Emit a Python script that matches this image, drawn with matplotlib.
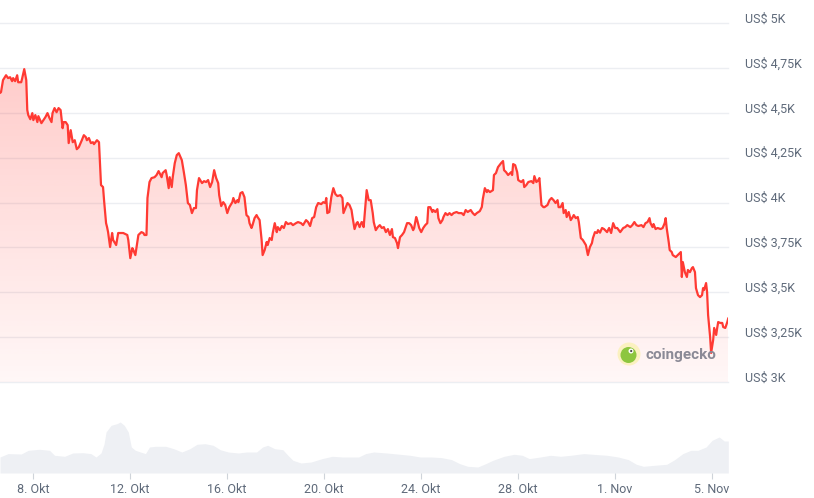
import matplotlib
matplotlib.use("Agg")
import matplotlib.pyplot as plt
import numpy as np
from datetime import datetime
from matplotlib.patches import Polygon, Circle

plt.rcParams['font.family'] = ['Roboto', 'DejaVu Sans']

# ---------------- data ----------------
start_time = datetime(2025, 10, 6, 15, 20)   # first sample
end_hours = 720.7                              # visible span in hours

price_hours = [
    0, 1, 3, 6, 8, 10, 12, 13, 15, 17,
    18, 21, 22, 24, 26, 27, 28, 30, 32, 33,
    35, 37, 38, 41, 43, 45, 47, 49, 51, 52,
    54, 56, 58, 60, 62, 63, 65, 67, 68, 70,
    72, 74, 76, 78, 81, 83, 85, 86, 88, 90,
    92, 93, 96, 98, 99, 100, 102, 103, 105, 106,
    107, 109, 111, 112, 115, 117, 120, 122, 126, 127,
    129, 131, 132, 134, 136, 137, 140, 142, 143, 145,
    146, 148, 150, 153, 155, 157, 160, 161, 164, 165,
    167, 168, 170, 171, 173, 175, 177, 180, 182, 184,
    186, 188, 190, 192, 194, 195, 197, 200, 202, 204,
    206, 208, 210, 212, 214, 216, 217, 219, 221, 223,
    225, 227, 230, 231, 233, 235, 236, 238, 240, 242,
    244, 246, 247, 249, 250, 252, 254, 255, 257, 259,
    260, 262, 264, 265, 267, 269, 270, 272, 274, 275,
    277, 279, 281, 283, 285, 288, 290, 293, 295, 298,
    300, 303, 305, 307, 309, 311, 313, 315, 318, 320,
    322, 323, 324, 326, 328, 330, 332, 334, 337, 339,
    340, 342, 344, 346, 348, 349, 351, 353, 354, 356,
    358, 359, 360, 362, 363, 365, 367, 369, 370, 372,
    374, 376, 378, 380, 382, 384, 386, 388, 389, 391,
    393, 394, 396, 398, 400, 403, 405, 407, 409, 410,
    412, 413, 415, 417, 419, 421, 423, 424, 426, 428,
    429, 431, 433, 434, 436, 438, 439, 441, 443, 445,
    447, 449, 452, 454, 457, 459, 461, 463, 466, 468,
    470, 472, 475, 477, 478, 480, 482, 483, 485, 488,
    489, 491, 493, 496, 498, 499, 501, 503, 506, 507,
    508, 510, 512, 513, 516, 518, 519, 521, 523, 526,
    528, 529, 531, 533, 534, 536, 538, 539, 542, 544,
    546, 548, 550, 552, 553, 555, 557, 558, 560, 561,
    563, 565, 567, 568, 570, 572, 573, 575, 577, 580,
    582, 584, 586, 587, 589, 591, 592, 594, 596, 598,
    601, 603, 605, 607, 609, 611, 614, 617, 619, 621,
    624, 626, 628, 630, 632, 635, 637, 639, 641, 643,
    644, 646, 647, 649, 651, 654, 656, 658, 659, 660,
    662, 663, 665, 666, 669, 671, 673, 674, 675, 676,
    678, 680, 681, 683, 685, 686, 688, 689, 691, 693,
    695, 696, 697, 699, 700, 701, 703, 704, 706, 707,
    709, 710, 711, 713, 715, 716, 718, 720, 721,
]

price_usd = [
    4610, 4615, 4682, 4709, 4693, 4698, 4676, 4693, 4676, 4709,
    4670, 4670, 4693, 4743, 4682, 4515, 4487, 4464, 4498, 4459,
    4487, 4448, 4481, 4442, 4459, 4476, 4498, 4470, 4448, 4498,
    4526, 4503, 4526, 4515, 4414, 4448, 4448, 4431, 4331, 4403,
    4336, 4347, 4297, 4308, 4347, 4375, 4364, 4347, 4359, 4331,
    4336, 4325, 4347, 4336, 4219, 4097, 4086, 4013, 3885, 3863,
    3835, 3752, 3830, 3791, 3763, 3830, 3830, 3830, 3819, 3791,
    3690, 3746, 3735, 3707, 3780, 3819, 3835, 3830, 3819, 3819,
    4025, 4114, 4136, 4141, 4153, 4175, 4141, 4164, 4180, 4153,
    4080, 4141, 4086, 4141, 4219, 4264, 4275, 4236, 4169, 4097,
    3997, 3986, 3941, 3969, 3969, 4069, 4136, 4108, 4119, 4114,
    4125, 4086, 4114, 4180, 4136, 4108, 4041, 3980, 4002, 3986,
    3941, 3974, 4002, 4025, 3997, 4013, 4002, 4052, 4058, 4030,
    3930, 3919, 3885, 3858, 3874, 3913, 3930, 3919, 3902, 3791,
    3707, 3735, 3780, 3763, 3802, 3791, 3830, 3885, 3835, 3863,
    3846, 3869, 3858, 3891, 3880, 3885, 3874, 3885, 3891, 3885,
    3874, 3902, 3891, 3869, 3913, 3919, 3974, 3997, 3991, 4002,
    3997, 4025, 3941, 3947, 4030, 4080, 4047, 4036, 4041, 4025,
    3941, 3969, 3997, 3986, 3958, 3919, 3852, 3885, 3891, 3863,
    3891, 3888, 3863, 3997, 4069, 4013, 4013, 3941, 3891, 3846,
    3863, 3874, 3858, 3863, 3835, 3852, 3819, 3852, 3807, 3802,
    3774, 3746, 3807, 3819, 3835, 3885, 3885, 3874, 3846, 3858,
    3919, 3902, 3858, 3835, 3858, 3874, 3885, 3974, 3974, 3947,
    3958, 3947, 3963, 3913, 3885, 3902, 3919, 3941, 3930, 3941,
    3930, 3941, 3947, 3941, 3941, 3930, 3958, 3947, 3958, 3941,
    3930, 3941, 3952, 3975, 4020, 4080, 4058, 4069, 4058, 4069,
    4153, 4164, 4197, 4219, 4231, 4180, 4169, 4153, 4169, 4153,
    4214, 4208, 4169, 4125, 4114, 4125, 4086, 4097, 4114, 4119,
    4108, 4147, 4114, 4125, 4136, 3986, 3974, 3974, 3986, 4013,
    4025, 4013, 3997, 4013, 3974, 3974, 3997, 3941, 3958, 3919,
    3947, 3902, 3919, 3930, 3913, 3919, 3891, 3802, 3791, 3763,
    3707, 3752, 3774, 3802, 3835, 3830, 3846, 3832, 3858, 3852,
    3835, 3858, 3830, 3885, 3858, 3858, 3835, 3858, 3863, 3874,
    3863, 3874, 3891, 3874, 3869, 3874, 3863, 3885, 3891, 3913,
    3885, 3863, 3880, 3852, 3858, 3852, 3858, 3885, 3913, 3858,
    3780, 3735, 3724, 3707, 3696, 3707, 3718, 3724, 3585, 3668,
    3612, 3585, 3624, 3612, 3635, 3640, 3612, 3523, 3484, 3473,
    3484, 3523, 3512, 3551, 3501, 3373, 3251, 3162, 3234, 3301,
    3262, 3301, 3334, 3329, 3329, 3306, 3301, 3334, 3356,
]

volume_hours = [
    0, 8, 21, 28, 39, 49, 54, 64, 72, 82, 90, 95, 100, 103, 105, 110, 116,
    119, 123, 127, 130, 134, 139, 144, 148, 154, 164, 172, 180, 188, 195,
    203, 211, 218, 226, 236, 244, 254, 260, 265, 272, 280, 285, 290, 298,
    308, 319, 329, 339, 355, 362, 370, 383, 396, 406, 416, 427, 437, 447,
    455, 463, 473, 481, 488, 499, 509, 517, 524, 535, 545, 555, 565, 578,
    591, 601, 612, 622, 630, 637, 648, 660, 668, 676, 684, 691, 699, 705,
    712, 717, 721,
]
volume_bn = [
    16, 19.4, 19, 22.7, 23.7, 22.7, 17.7, 16.7, 20, 20.3, 19.4, 16, 20, 29,
    41, 47.7, 49.4, 51, 47.7, 41, 26, 22.7, 21, 19.4, 26, 26.7, 26.7, 24.3,
    21, 24.3, 28.7, 29.3, 27.7, 23.3, 21, 20, 21, 21, 26, 27.7, 24.3, 23.3,
    17.7, 12.7, 10, 11, 14.4, 16.7, 16, 16, 19.4, 21, 20, 18.7, 17.7, 16,
    16, 15.4, 13.4, 9.4, 6.7, 6, 9.4, 12.7, 16.7, 18.7, 17.7, 14.4, 16,
    17.7, 16.7, 17.7, 19.4, 18.4, 17.7, 16, 13.4, 8.7, 6.7, 7.7, 8.7, 13.4,
    19.4, 22.7, 22.7, 26, 32.7, 36, 32, 32,
]

y_ticks = [3000, 3250, 3500, 3750, 4000, 4250, 4500, 4750, 5000]
y_tick_labels = ["US$ 3K", "US$ 3,25K", "US$ 3,5K", "US$ 3,75K", "US$ 4K",
                 "US$ 4,25K", "US$ 4,5K", "US$ 4,75K", "US$ 5K"]

x_tick_dates = [datetime(2025, 10, 8), datetime(2025, 10, 12), datetime(2025, 10, 16),
                datetime(2025, 10, 20), datetime(2025, 10, 24), datetime(2025, 10, 28),
                datetime(2025, 11, 1), datetime(2025, 11, 5)]
x_tick_labels = ["8. Okt", "12. Okt", "16. Okt", "20. Okt", "24. Okt", "28. Okt",
                 "1. Nov", "5. Nov"]

# ---------------- figure ----------------
W, H = 814, 498
fig = plt.figure(figsize=(W / 100, H / 100), dpi=100)
fig.patch.set_facecolor('white')

line_color = '#ff3a33'
grid_color = '#eceef2'
label_color = '#5f6a7a'

ax = fig.add_axes([0, 1 - 382 / H, 728 / W, (382 - 23) / H])
axv = fig.add_axes([0, 1 - 473 / H, 728 / W, 60 / H])

hours = np.array(price_hours, dtype=float)
usd = np.array(price_usd, dtype=float)

# gradient area under the price line
ymin, ymax = 3000, 5000
verts = [(hours[0], ymin)] + list(zip(hours, usd)) + [(hours[-1], ymin)]
poly = Polygon(verts, closed=True, facecolor='none', edgecolor='none')
ax.add_patch(poly)
n = 256
alpha = 0.04 + np.linspace(0, 1, n) * 0.25
grad = np.zeros((n, 1, 4))
grad[:, 0, 0] = 1.0
grad[:, 0, 1] = 0.23
grad[:, 0, 2] = 0.2
grad[:, 0, 3] = alpha
im = ax.imshow(grad, extent=[0, end_hours, ymin, ymax], origin='lower',
               aspect='auto', zorder=1, interpolation='bicubic')
im.set_clip_path(poly)

ax.plot(hours, usd, color=line_color, lw=1.6, zorder=4,
        solid_joinstyle='round', solid_capstyle='round')

# grid lines
for v in y_ticks:
    ax.axhline(v, color=grid_color, lw=1, zorder=0.5, clip_on=False)

ax.set_xlim(0, end_hours)
ax.set_ylim(ymin, ymax)
ax.set_xticks([])
ax.set_yticks([])
for s in ax.spines.values():
    s.set_visible(False)
ax.patch.set_alpha(0)

for v, lab in zip(y_ticks, y_tick_labels):
    ax.annotate(lab, xy=(1, v), xycoords=('axes fraction', 'data'),
                xytext=(12.3, 2.9), textcoords='offset points',
                ha='left', va='center', fontsize=9, color=label_color,
                annotation_clip=False)

# volume
axv.fill_between(volume_hours, volume_bn, 0, color='#eef0f4', lw=0)
axv.set_xlim(0, end_hours)
axv.set_ylim(0, 60)
axv.set_yticks([])
for s in axv.spines.values():
    s.set_visible(False)
axv.patch.set_alpha(0)
tick_pos = [(d - start_time).total_seconds() / 3600 for d in x_tick_dates]
axv.set_xticks(tick_pos)
axv.set_xticklabels(x_tick_labels)
axv.tick_params(axis='x', length=4, width=0.8, color='#cfd4da', pad=3,
                labelsize=9, labelcolor=label_color)

# coingecko watermark
cx, cy = 629 / 100, (H - 354) / 100
fig.patches.append(Circle((cx, cy), 0.115, transform=fig.dpi_scale_trans,
                          facecolor='#fbf1c0', edgecolor='none', zorder=2))
fig.patches.append(Circle((cx - 0.005, cy - 0.01), 0.08, transform=fig.dpi_scale_trans,
                          facecolor='#8dc63f', edgecolor='none', zorder=2))
fig.patches.append(Circle((cx + 0.02, cy + 0.03), 0.025, transform=fig.dpi_scale_trans,
                          facecolor='white', edgecolor='none', zorder=2))
fig.patches.append(Circle((cx + 0.022, cy + 0.03), 0.011, transform=fig.dpi_scale_trans,
                          facecolor='#4a4a4a', edgecolor='none', zorder=2))
fig.text(645 / W, 1 - 355 / H, 'coingecko', fontsize=11, fontweight='bold',
         color='#8b8a96', ha='left', va='center', zorder=2)

fig.savefig('out.png', dpi=100, facecolor='white')
